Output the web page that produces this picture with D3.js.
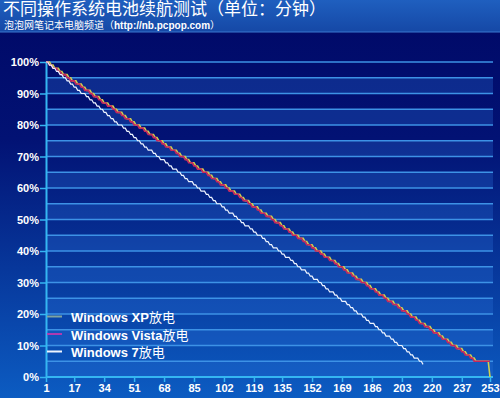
<!DOCTYPE html>
<html><head><meta charset="utf-8">
<script src="https://cdn.jsdelivr.net/npm/d3@7"></script>
<style>html,body{margin:0;padding:0;background:#000a68;}svg{display:block;}</style>
</head><body>
<svg id="c" width="500" height="398"></svg>
<script>
const title = "不同操作系统电池续航测试（单位：分钟）";
const subtitleCn = "泡泡网笔记本电脑频道（";
const subtitleUrl = "http://nb.pcpop.com";
const subtitleEnd = "）";
const seriesNames = ["Windows XP放电", "Windows Vista放电", "Windows 7放电"];
const xTickLabels = [1,17,34,51,68,85,102,119,135,152,169,186,203,220,237,253];
const yTickLabels = [0,10,20,30,40,50,60,70,80,90,100];
const yGridValues = [0,5,10,15,20,25,30,35,40,45,50,55,60,65,70,75,80,85,90,95,100];

const xpValues = [
100,100,100,99,99,98,98,98,97,97,96,96,96,95,95,94,94,94,
93,93,93,92,92,91,91,91,90,90,89,89,89,88,88,87,87,87,
86,86,86,85,85,84,84,84,83,83,82,82,82,81,81,80,80,80,
79,79,79,78,78,77,77,77,76,76,75,75,75,74,74,73,73,73,
72,72,72,71,71,70,70,70,69,69,68,68,68,67,67,66,66,66,
65,65,65,64,64,63,63,63,62,62,61,61,61,60,60,59,59,59,
58,58,58,57,57,56,56,56,55,55,54,54,54,53,53,52,52,52,
51,51,51,50,50,49,49,49,48,48,47,47,47,46,46,45,45,45,
44,44,44,43,43,42,42,42,41,41,40,40,40,39,39,38,38,38,
37,37,37,36,36,35,35,35,34,34,33,33,33,32,32,31,31,31,
30,30,30,29,29,28,28,28,27,27,26,26,26,25,25,24,24,24,
23,23,23,22,22,21,21,21,20,20,19,19,19,18,18,17,17,17,
16,16,16,15,15,14,14,14,13,13,12,12,12,11,11,10,10,10,
9,9,9,8,8,7,7,7,6,6,
5,5,5,5,5,5,5,5,
0];

const vistaValues = [
100,100,99,99,98,98,98,97,97,96,96,96,95,95,94,94,94,
93,93,93,92,92,91,91,91,90,90,89,89,89,88,88,87,87,87,
86,86,86,85,85,84,84,84,83,83,82,82,82,81,81,80,80,80,
79,79,79,78,78,77,77,77,76,76,75,75,75,74,74,73,73,73,
72,72,72,71,71,70,70,70,69,69,68,68,68,67,67,66,66,66,
65,65,65,64,64,63,63,63,62,62,61,61,61,60,60,59,59,59,
58,58,58,57,57,56,56,56,55,55,54,54,54,53,53,52,52,52,
51,51,51,50,50,49,49,49,48,48,47,47,47,46,46,45,45,45,
44,44,44,43,43,42,42,42,41,41,40,40,40,39,39,38,38,38,
37,37,37,36,36,35,35,35,34,34,33,33,33,32,32,31,31,31,
30,30,30,29,29,28,28,28,27,27,26,26,26,25,25,24,24,24,
23,23,23,22,22,21,21,21,20,20,19,19,19,18,18,17,17,17,
16,16,16,15,15,14,14,14,13,13,12,12,12,11,11,10,10,10,
9,9,9,8,8,7,7,7,6,6,
5,5,5,5,5,5,5,5,5,
5];

const win7Values = [
100,100,99,99,98,98,97,97,96,96,95,95,94,94,93,93,92,92,91,91,
90,90,90,89,89,88,88,87,87,86,86,85,85,84,84,83,83,82,82,81,81,
80,80,80,79,79,78,78,77,77,76,76,75,75,74,74,73,73,
72,72,72,71,71,70,70,
69,69,69,68,68,67,67,66,66,66,65,65,64,64,63,63,
62,62,62,61,61,60,60,59,59,59,58,58,57,57,56,56,
55,55,55,54,54,53,53,52,52,52,51,51,50,50,49,49,
48,48,48,47,47,46,46,45,45,45,44,44,43,43,42,42,
41,41,41,40,40,39,39,38,38,38,37,37,36,36,35,35,
34,34,34,33,33,32,32,31,31,31,30,30,29,29,28,28,
27,27,27,26,26,25,25,24,24,24,23,23,22,22,21,21,
20,20,20,19,19,18,18,17,17,17,16,16,15,15,14,14,
13,13,13,12,12,11,11,10,10,10,9,9,8,8,7,7,
6,6,6,5,5,
4];

const colors = ["#cfd04e", "#c8285e", "#eef4ff"];

const svg = d3.select("#c");
const W = 500, H = 398;
const mLeft = 46, mRight = 490, mTop = 62, mBottom = 377, plotRight = 493;

const defs = svg.append("defs");
const bg = defs.append("linearGradient").attr("id","bg").attr("x1",0).attr("y1",0).attr("x2",0).attr("y2",1);
bg.append("stop").attr("offset","0%").attr("stop-color","#000866");
bg.append("stop").attr("offset","35%").attr("stop-color","#021274");
bg.append("stop").attr("offset","100%").attr("stop-color","#0c5cc2");
const tb = defs.append("linearGradient").attr("id","tb").attr("x1",0).attr("y1",0).attr("x2",0).attr("y2",1);
tb.append("stop").attr("offset","0%").attr("stop-color","#1f5fbf");
tb.append("stop").attr("offset","100%").attr("stop-color","#1548a6");

svg.append("rect").attr("x",0).attr("y",0).attr("width",W).attr("height",H).attr("fill","url(#bg)");
svg.append("rect").attr("x",0).attr("y",0).attr("width",W).attr("height",32).attr("fill","url(#tb)");
svg.append("line").attr("x1",0).attr("x2",W).attr("y1",32).attr("y2",32).attr("stroke","#3a78d0").attr("stroke-width",1);

const x = d3.scaleLinear().domain([1,253]).range([mLeft,mRight]);
const y = d3.scaleLinear().domain([0,100]).range([mBottom,mTop]);

// alternating bands
const bandStarts = yGridValues.filter(v => v % 10 === 0 && v < 100);
svg.append("g").selectAll("rect").data(bandStarts).join("rect")
  .attr("x", mLeft).attr("width", plotRight-mLeft)
  .attr("y", d => y(d+5)).attr("height", d => y(d)-y(d+5))
  .attr("fill", "#2a70d8").attr("opacity", 0.3);

// gridlines
svg.append("g").selectAll("line").data(yGridValues.filter(v=>v>0)).join("line")
  .attr("x1", mLeft).attr("x2", plotRight)
  .attr("y1", d => y(d)).attr("y2", d => y(d))
  .attr("stroke", "#3d92e6").attr("stroke-width", 1.5);

// axes
const yAxis = d3.axisLeft(y).tickValues(yTickLabels).tickFormat(d => d + "%").tickSize(6).tickSizeOuter(0);
const gy = svg.append("g").attr("transform", `translate(${mLeft},0)`).call(yAxis);
gy.select(".domain").attr("stroke", "#35b6f2").attr("stroke-width", 2);
gy.selectAll(".tick line").attr("stroke", "#35b6f2").attr("stroke-width", 1.5);
gy.selectAll(".tick text").attr("fill", "#ffffff").attr("x", -7).attr("dy","0.35em")
  .style("font", "bold 11px 'Liberation Sans', Arial, sans-serif");

const xAxis = d3.axisBottom(x).tickValues(xTickLabels).tickFormat(d3.format("d")).tickSize(5).tickSizeOuter(0);
const gx = svg.append("g").attr("transform", `translate(0,${mBottom})`).call(xAxis);
gx.select(".domain").attr("stroke", "#35b6f2").attr("stroke-width", 2).attr("d", `M${mLeft},0H${plotRight}`);
gx.selectAll(".tick line").attr("stroke", "#35b6f2").attr("stroke-width", 1.5);
gx.selectAll(".tick text").attr("fill", "#ffffff").attr("y", 7).attr("dy","0.71em")
  .style("font", "bold 11px 'Liberation Sans', Arial, sans-serif");

// lines
const line = d3.line().x((d,i) => x(i+1)).y(d => y(d));
const allSeries = [xpValues, vistaValues, win7Values];
svg.append("g").selectAll("path").data(allSeries).join("path")
  .attr("d", d => line(d)).attr("fill","none")
  .attr("stroke", (d,i) => colors[i])
  .attr("stroke-width", (d,i) => i === 2 ? 1.2 : 1.6)
  .attr("stroke-linejoin","miter");

// legend
const legendColors = ["#7fa4a0", "#b03ab0", "#eef4ff"];
const lg = svg.append("g");
seriesNames.forEach((name, i) => {
  const cy = 316.5 + i*17.5;
  lg.append("line").attr("x1", 47).attr("x2", 62).attr("y1", cy).attr("y2", cy)
    .attr("stroke", legendColors[i]).attr("stroke-width", 2);
  const m = name.match(/^(Windows [A-Za-z0-9]+)(.*)$/);
  const t = lg.append("text").attr("x", 71).attr("y", cy).attr("dy","0.36em").attr("fill","#ffffff");
  t.append("tspan").text(m[1]).style("font","bold 13px 'Liberation Sans', Arial, sans-serif");
  t.append("tspan").text(m[2]).style("font","13px 'Noto Sans CJK SC', sans-serif");
});

// title
svg.append("text").attr("x", 3).attr("y", 15).attr("fill","#ffffff")
  .style("font","17px 'Noto Sans CJK SC', sans-serif").text(title);
const st = svg.append("text").attr("x", 4).attr("y", 28.5).attr("fill","#ffffff");
st.append("tspan").text(subtitleCn).style("font","10px 'Noto Sans CJK SC', sans-serif");
st.append("tspan").text(subtitleUrl).style("font","bold 10px 'Liberation Sans', Arial, sans-serif");
st.append("tspan").text(subtitleEnd).style("font","10px 'Noto Sans CJK SC', sans-serif");
</script>
</body></html>
